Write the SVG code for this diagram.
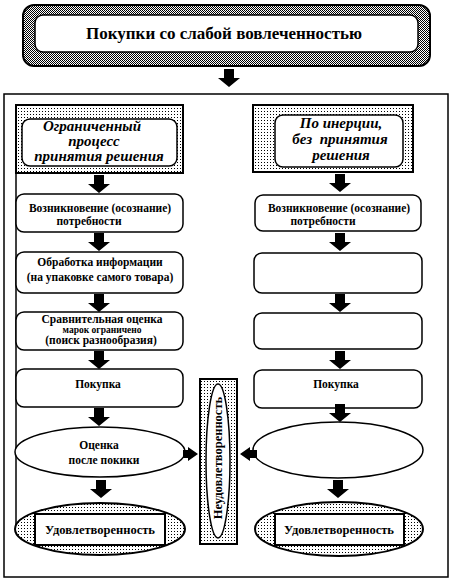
<svg xmlns="http://www.w3.org/2000/svg" width="455" height="583" viewBox="0 0 455 583">
<defs>
<pattern id="dots" width="3" height="3" patternUnits="userSpaceOnUse"><rect width="3" height="3" fill="#fff"/><rect width="1" height="1" fill="#000"/></pattern>
<pattern id="check" width="2" height="2" patternUnits="userSpaceOnUse"><rect width="2" height="2" fill="#fff"/><rect width="1" height="1" fill="#000"/><rect x="1" y="1" width="1" height="1" fill="#000"/></pattern>
<path id="darr" d="M-5,0 H5 V9 H11 L0,18 L-11,9 H-5 Z" fill="#000"/>
</defs>
<style>
.b{fill:#fff;stroke:#000;stroke-width:1.5}
.g{fill:url(#dots);stroke:#000;stroke-width:2}
.t{font-family:"Liberation Serif","Times New Roman",serif;font-weight:bold;font-size:11.5px;fill:#000;text-anchor:middle}
.h{font-family:"Liberation Serif","Times New Roman",serif;font-weight:bold;font-style:italic;font-size:15px;fill:#000;text-anchor:middle}
</style>
<rect width="455" height="583" fill="#fff"/>
<rect x="4" y="94" width="444" height="483" fill="none" stroke="#000" stroke-width="1.5"/>
<line x1="16" y1="105" x2="16" y2="530" stroke="#000" stroke-width="1.5"/>

<g id="title">
<rect x="23" y="5" width="407" height="61" rx="11" fill="url(#check)" stroke="#000" stroke-width="2"/>
<rect x="35" y="15" width="383" height="37" rx="8" class="b"/>
<text x="224" y="39" class="t" style="font-size:17px">Покупки со слабой вовлеченностью</text>
</g>

<g id="left-head">
<rect x="16" y="105" width="167" height="68" class="g"/>
<rect x="22" y="119" width="155" height="47" rx="8" class="b"/>
<text x="92" y="131" class="h">Ограниченный</text>
<text x="94" y="146" class="h">процесс</text>
<text x="99" y="161" class="h">принятия решения</text>
</g>

<g id="right-head">
<rect x="253" y="105" width="160" height="67" class="g"/>
<rect x="275" y="115" width="128" height="52" rx="8" class="b"/>
<text x="341" y="128" class="h">По инерции,</text>
<text x="340" y="144" class="h" xml:space="preserve">без  принятия</text>
<text x="341" y="160" class="h">решения</text>
</g>

<g id="l1">
<rect x="16" y="194" width="167" height="38" rx="8" class="b"/>
<text x="100" y="212" class="t">Возникновение (осознание)</text>
<text x="89" y="225" class="t">потребности</text>
</g>
<g id="l2">
<rect x="16" y="252" width="167" height="41" rx="8" class="b"/>
<text x="100" y="266" class="t">Обработка информации</text>
<text x="100" y="281" class="t">(на упаковке самого товара)</text>
</g>
<g id="l3">
<rect x="16" y="312" width="167" height="38" rx="8" class="b"/>
<text x="102" y="323" class="t">Сравнительная оценка</text>
<text x="102" y="333" class="t" style="font-size:9.5px">марок ограничено</text>
<text x="101" y="344" class="t">(поиск разнообразия)</text>
</g>
<g id="l4">
<rect x="16" y="369" width="167" height="38" rx="8" class="b"/>
<text x="98" y="388" class="t">Покупка</text>
</g>
<g id="l5">
<ellipse cx="100" cy="452" rx="85" ry="25" class="b"/>
<text x="99" y="449" class="t">Оценка</text>
<text x="104" y="464" class="t">после покики</text>
</g>
<g id="l6">
<ellipse cx="100" cy="529" rx="85" ry="26" class="g" stroke-width="1.5"/>
<rect x="35" y="514" width="130" height="31" fill="#fff" stroke="#000" stroke-width="2"/>
<text x="100" y="534" class="t" style="font-size:12.5px">Удовлетворенность</text>
</g>

<g id="r1">
<rect x="255" y="195" width="166" height="36" rx="8" class="b"/>
<text x="339" y="212" class="t">Возникновение (осознание)</text>
<text x="323" y="225" class="t">потребности</text>
</g>
<g id="r2">
<rect x="254" y="253" width="168" height="40" rx="8" class="b"/>
</g>
<g id="r3">
<rect x="254" y="313" width="168" height="36" rx="8" class="b"/>
</g>
<g id="r4">
<rect x="254" y="370" width="168" height="38" rx="8" class="b"/>
<text x="336" y="388" class="t">Покупка</text>
</g>
<g id="r5">
<ellipse cx="338" cy="450" rx="85" ry="28" class="b"/>
</g>
<g id="r6">
<ellipse cx="339" cy="529" rx="84" ry="27" class="g" stroke-width="1.5"/>
<rect x="275" y="514" width="129" height="31" fill="#fff" stroke="#000" stroke-width="2"/>
<text x="339" y="534" class="t" style="font-size:12.5px">Удовлетворенность</text>
</g>

<g id="mid">
<rect x="200" y="379" width="37" height="165" class="g"/>
<ellipse cx="218" cy="461" rx="12" ry="77" class="b"/>
<text transform="translate(222,458) rotate(-90)" x="0" y="0" class="t" style="font-size:12.5px">Неудовлетворенность</text>
</g>

<g id="connectors">
<use href="#darr" x="229" y="69"/>
<use href="#darr" x="99" y="175"/>
<use href="#darr" x="99" y="233"/>
<use href="#darr" x="99" y="294"/>
<use href="#darr" x="99" y="351"/>
<use href="#darr" x="99" y="408"/>
<use href="#darr" x="101" y="480"/>
<use href="#darr" x="340" y="174"/>
<use href="#darr" x="340" y="233"/>
<use href="#darr" x="340" y="294"/>
<use href="#darr" x="340" y="351"/>
<use href="#darr" x="340" y="404"/>
<use href="#darr" x="338" y="480"/>
<path d="M183,450 H188 V447 L198,454 L188,461 V458 H183 Z" fill="#000"/>
<path d="M257,450 H250 V447 L240,454 L250,461 V458 H257 Z" fill="#000"/>
</g>
</svg>
